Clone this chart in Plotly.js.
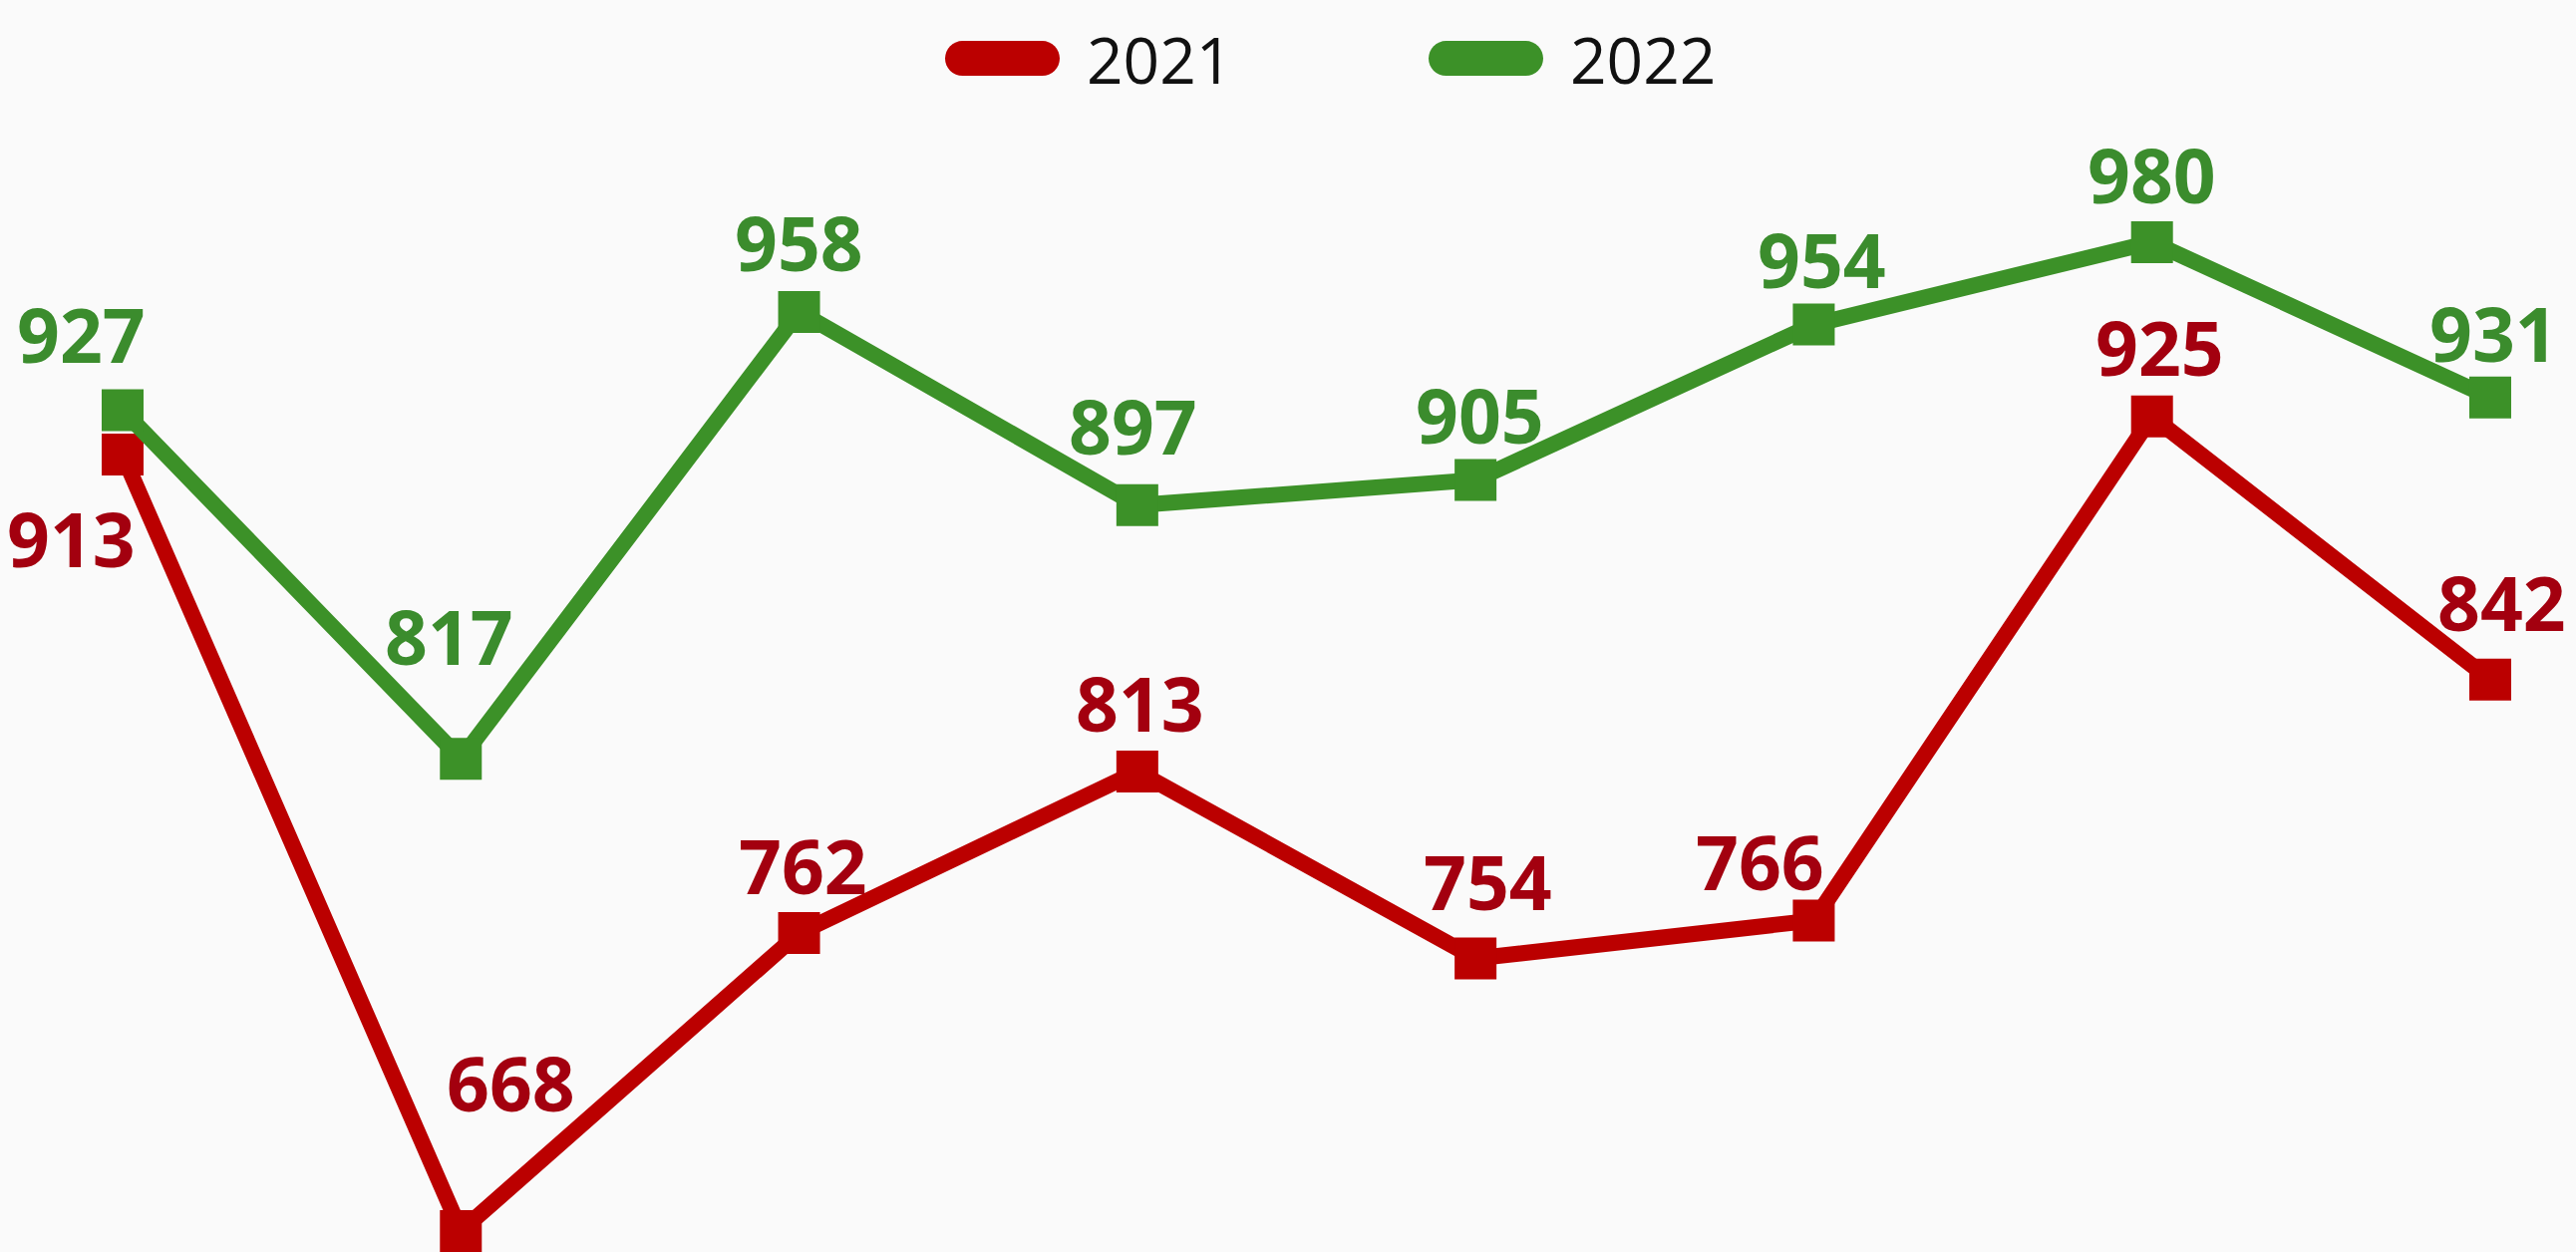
<!DOCTYPE html>
<html>
<head>
<meta charset="utf-8">
<script src="https://cdn.plot.ly/plotly-3.0.1.min.js"></script>
<style>
  html, body { margin: 0; padding: 0; background: #fafafa; }
  #chart { width: 2584px; height: 1256px; }
</style>
</head>
<body>
<div id="chart"></div>
<script>
// ---- data ----
const points = [1, 2, 3, 4, 5, 6, 7, 8];
const seriesNames = ['2021', '2022'];
const values2021 = [913, 668, 762, 813, 754, 766, 925, 842];
const values2022 = [927, 817, 958, 897, 905, 954, 980, 931];

// ---- styling (label offsets in pixels, not data) ----
const labelShift2021 = [[-51, 84], [50, -149], [4, -68], [3, -69], [12, -78], [-54, -59], [8, -70], [12, -78]];
const labelShift2022 = [[-41, -76], [-12, -123], [0, -70], [-4, -80], [4, -65], [8, -66], [0, -68], [4, -65]];

const lineColor = { '2021': '#bb0000', '2022': '#3c9128' };
const textColor = { '2021': '#a3000f', '2022': '#3b8c2d' };

function lineTrace(name, vals) {
  return {
    type: 'scatter',
    mode: 'lines+markers',
    name: name,
    x: points,
    y: vals,
    line: { color: lineColor[name], width: 16 },
    marker: { symbol: 'square', size: 42, color: lineColor[name] },
    cliponaxis: false,
    hoverinfo: 'skip'
  };
}

function labels(name, vals, shifts) {
  return vals.map((v, i) => ({
    x: points[i],
    y: v,
    xref: 'x',
    yref: 'y',
    text: String(v),
    showarrow: false,
    xanchor: 'center',
    yanchor: 'middle',
    xshift: shifts[i][0],
    yshift: -shifts[i][1],
    font: { family: '"Open Sans", sans-serif', size: 75, weight: 700, color: textColor[name] }
  }));
}

const data = [
  lineTrace(seriesNames[0], values2021),
  lineTrace(seriesNames[1], values2022)
];

const layout = {
  width: 2584,
  height: 1256,
  margin: { l: 0, r: 0, t: 0, b: 0, pad: 0 },
  paper_bgcolor: '#fafafa',
  plot_bgcolor: '#fafafa',
  hovermode: false,
  xaxis: { visible: false, range: [0.6375, 8.2535], fixedrange: true },
  yaxis: { visible: false, range: [661.4, 1056.4], fixedrange: true },
  showlegend: true,
  legend: {
    orientation: 'h',
    x: 940 / 2584,
    xanchor: 'left',
    y: 1 - 59 / 1256,
    yanchor: 'middle',
    bgcolor: 'rgba(0,0,0,0)',
    itemwidth: 140,
    entrywidth: 330,
    font: { family: '"Open Sans", sans-serif', size: 64, weight: 400, color: '#111111' }
  },
  annotations: [].concat(
    labels(seriesNames[0], values2021, labelShift2021),
    labels(seriesNames[1], values2022, labelShift2022)
  )
};

Plotly.newPlot('chart', data, layout, { displayModeBar: false, staticPlot: true }).then(gd => {
  // make the legend swatches thick rounded pills without markers
  gd.querySelectorAll('.legend .traces').forEach(tr => {
    tr.querySelectorAll('.legendpoints').forEach(p => p.style.display = 'none');
    tr.querySelectorAll('.legendlines path').forEach(p => {
      p.setAttribute('d', 'M25.5,0h80');
      p.style.strokeWidth = '35px';
      p.style.strokeLinecap = 'round';
    });
  });
});
</script>
</body>
</html>
